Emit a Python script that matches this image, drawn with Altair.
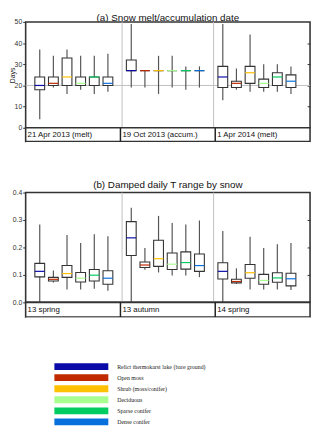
import altair as alt
import pandas as pd

# ---------------- data ----------------
sites = ["Relict thermokarst lake (bare ground)", "Open moss", "Shrub (moss/conifer)",
         "Deciduous", "Sparse conifer", "Dense conifer"]
site_colors = ["#0a0aa8", "#c02a00", "#ffc000", "#a8ff90", "#00cc60", "#0870dc"]

periods_a = ["21 Apr 2013 (melt)", "19 Oct 2013 (accum.)", "1 Apr  2014 (melt)"]
periods_b = ["13 spring", "13 autumn", "14 spring"]

# (a) Snow melt / accumulation date [days] -- 3 periods x 6 sites
a_min = [4, 19, 16, 18, 16, 17,   19, 19, 16, 19, 18, 19,   13, 18, 17, 17, 17, 16]
a_q1  = [18, 20, 20, 20, 20, 20,  27, 27, 27, 27, 27, 27,   19, 19, 21, 19, 20, 19]
a_med = [20, 21, 24, 21, 24, 21,  27, 27, 27, 27, 27, 27,   24, 21, 26, 21, 24, 22]
a_q3  = [24, 24, 33, 24, 24, 24,  32, 27, 27, 27, 27, 27,   29, 22, 29, 23, 26, 25]
a_max = [37, 34, 37, 34, 34, 35,  49, 27, 34, 34, 29, 29,   49, 28, 44, 30, 30, 29]

# (b) Damped daily T range by snow -- 3 periods x 6 sites
b_min = [0.0, 0.072, 0.047, 0.047, 0.050, 0.042,  0.0, 0.119, 0.109, 0.098, 0.098, 0.092,
         0.0, 0.067, 0.047, 0.047, 0.047, 0.045]
b_q1  = [0.093, 0.078, 0.091, 0.074, 0.078, 0.066,  0.171, 0.127, 0.131, 0.120, 0.121, 0.113,
         0.085, 0.071, 0.088, 0.066, 0.073, 0.060]
b_med = [0.113, 0.084, 0.105, 0.088, 0.099, 0.088,  0.235, 0.136, 0.159, 0.139, 0.145, 0.134,
         0.113, 0.076, 0.108, 0.080, 0.089, 0.086]
b_q3  = [0.142, 0.091, 0.134, 0.109, 0.120, 0.115,  0.294, 0.147, 0.226, 0.180, 0.184, 0.176,
         0.144, 0.084, 0.138, 0.102, 0.108, 0.106]
b_max = [0.284, 0.116, 0.245, 0.216, 0.248, 0.241,  0.345, 0.198, 0.315, 0.289, 0.284, 0.298,
         0.260, 0.124, 0.239, 0.198, 0.212, 0.216]

ref_line_a = [20]
ticks_a = [0, 10, 20, 30, 40, 50]
ticks_b = [0.0, 0.1, 0.2, 0.3, 0.4]

# ---------------- layout helpers ----------------
W = 290
GW = 6.713      # width of one period block, in box-spacing units
FIRST = 0.674   # offset of first box inside a block
xscale = alt.Scale(domain=[0, 3 * GW], nice=False, zero=False)
FONT = "Liberation Sans"
frame = alt.ViewBackground(stroke="#333", strokeWidth=1.6, fill="white")
noframe = alt.ViewBackground(stroke="transparent", fill="white")

color = alt.Color("site:N", scale=alt.Scale(domain=sites, range=site_colors), legend=None)


def box_table(mins, q1s, meds, q3s, maxs):
    rows = []
    for k in range(len(mins)):
        g, i = divmod(k, len(sites))
        rows.append(dict(site=sites[i], pos=g * GW + FIRST + i, lo=mins[k], q1=q1s[k],
                         med=meds[k], q3=q3s[k], hi=maxs[k]))
    return pd.DataFrame(rows)


sep_df = pd.DataFrame({"b": [GW * (g + 1) for g in range(len(periods_a) - 1)]})


def panel(df, ydom, yvals, fmt, ytitle, height, rvals, hline=None):
    ys = alt.Scale(domain=ydom, nice=False, zero=False)
    X = alt.X("pos:Q", scale=xscale, axis=None)
    left = alt.Axis(values=yvals, format=fmt, title=ytitle, labelFontSize=7, labelFont=FONT,
                    labelColor="#333", tickSize=3, tickColor="#333", tickWidth=1,
                    labelPadding=1, domain=False, grid=False, titleFontSize=7,
                    titleFontWeight="normal", titleFont=FONT, titleColor="#222",
                    titleX=-10, titleY=height * 0.5)
    right = alt.Axis(orient="right", values=rvals, labels=False, tickSize=3, offset=-3,
                     tickColor="#333", tickWidth=1, domain=False, grid=False, title=None)
    layers = []
    layers.append(alt.Chart(sep_df).mark_rule(color="#c0c0c0", strokeWidth=1).encode(
        x=alt.X("b:Q", scale=xscale, axis=None)))
    if hline is not None:
        layers.append(alt.Chart(pd.DataFrame({"v": hline})).mark_rule(
            color="#c0c0c0", strokeWidth=1).encode(y=alt.Y("v:Q", scale=ys, axis=None)))
    base = alt.Chart(df)
    layers.append(base.mark_rule(color="#555", strokeWidth=1.2).encode(
        x=X, y=alt.Y("lo:Q", scale=ys, axis=left), y2="hi:Q"))
    layers.append(base.mark_bar(size=10, fill="white", stroke="#333", strokeWidth=1.1).encode(
        x=X, y=alt.Y("q1:Q", scale=ys, axis=None), y2="q3:Q"))
    layers.append(base.mark_rule(strokeWidth=1.2, xOffset=-5, x2Offset=5).encode(
        x=X, x2="pos:Q", y=alt.Y("med:Q", scale=ys, axis=right), color=color))
    return alt.layer(*layers).resolve_axis(y="independent").properties(
        width=W, height=height, view=frame)


def band(labels, height):
    lab = pd.DataFrame({"label": labels, "start": [g * GW for g in range(len(labels))]})
    div = alt.Chart(sep_df).mark_rule(color="#222", strokeWidth=1.5).encode(
        x=alt.X("b:Q", scale=xscale, axis=None))
    txt = alt.Chart(lab).mark_text(align="left", baseline="middle", dx=2, fontSize=8,
                                   font=FONT, color="#111").encode(
        x=alt.X("start:Q", scale=xscale, axis=None), y=alt.value(height / 2 + 0.5),
        text="label:N")
    return alt.layer(div, txt).properties(width=W, height=height, view=frame)


def title_row(text, height, baseline_y):
    return alt.Chart(pd.DataFrame({"t": [text]})).mark_text(
        align="center", baseline="alphabetic", fontSize=10, font=FONT, color="#111").encode(
        x=alt.value(W / 2), y=alt.value(baseline_y), text="t:N").properties(
        width=W, height=height, view=noframe)


def legend_row(height):
    step = 11.27
    first = 50.5
    dmin = -first / step
    dmax = dmin + height / step
    lg = pd.DataFrame({"site": sites, "idx": list(range(len(sites)))})
    Y = alt.Y("idx:Q", scale=alt.Scale(domain=[dmin, dmax], reverse=True, nice=False,
                                       zero=False), axis=None)
    sw = alt.Chart(lg).mark_rule(strokeWidth=7, strokeCap="butt").encode(
        x=alt.value(29.3), x2=alt.value(84.3), y=Y, color=color)
    tx = alt.Chart(lg).mark_text(align="left", baseline="middle", fontSize=6,
                                 font="Liberation Serif", color="#222").encode(
        x=alt.value(93.3), y=Y, text="site:N")
    return alt.layer(sw, tx).properties(width=W, height=height, view=noframe)


pa = panel(box_table(a_min, a_q1, a_med, a_q3, a_max), [0, 50], ticks_a, "d", "Days",
           108, [10, 20, 30, 40], hline=ref_line_a)
pb = panel(box_table(b_min, b_q1, b_med, b_q3, b_max), [0, 0.4], ticks_b, ".1f", None,
           112, [0.1, 0.2, 0.3])

chart = alt.vconcat(
    title_row("(a) Snow melt/accumulation date", 9, 8),
    pa,
    band(periods_a, 14),
    title_row("(b) Damped daily T range by snow", 52, 47.5),
    pb,
    band(periods_b, 15),
    legend_row(112),
    spacing=0,
    bounds="flush",
).properties(padding=0, background="white")

chart.save("out.html", embed_options={"renderer": "svg", "actions": False})
